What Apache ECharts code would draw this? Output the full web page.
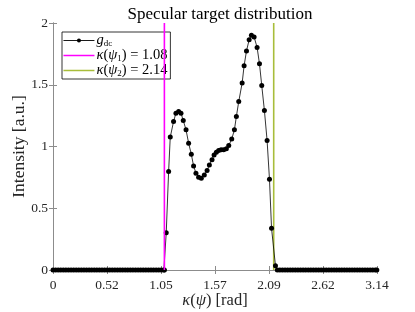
<!DOCTYPE html>
<html>
<head>
<meta charset="utf-8">
<script src="https://cdn.jsdelivr.net/npm/echarts@6/dist/echarts.min.js"></script>
<style>html,body{margin:0;padding:0;background:#fff}#c{width:415px;height:312px}</style>
</head>
<body>
<div id="c"></div>
<script>
// ---- data ----
const kappa = [
  0, 0.025, 0.05, 0.075, 0.1, 0.125, 0.15, 0.175, 0.2, 0.225, 0.25, 0.275, 0.3, 0.325, 0.35, 0.375,
  0.4, 0.425, 0.45, 0.475, 0.5, 0.525, 0.55, 0.575, 0.6, 0.625, 0.65, 0.675, 0.7, 0.725, 0.75, 0.775,
  0.8, 0.825, 0.85, 0.875, 0.9, 0.925, 0.95, 0.975, 1.0, 1.025, 1.05, 1.075, 1.08,
  1.098, 1.121, 1.137, 1.169, 1.192, 1.218, 1.241, 1.263, 1.290, 1.315, 1.341, 1.363, 1.386, 1.412,
  1.438, 1.467, 1.494, 1.516, 1.542, 1.562, 1.584, 1.606, 1.630, 1.655, 1.681, 1.704, 1.733, 1.759,
  1.778, 1.801, 1.834, 1.853, 1.876, 1.902, 1.924, 1.950, 1.979, 2.002, 2.024, 2.050, 2.076, 2.099,
  2.119, 2.157,
  2.175, 2.2, 2.225, 2.25, 2.275, 2.3, 2.325, 2.35, 2.375, 2.4, 2.425, 2.45, 2.475, 2.5, 2.525, 2.55,
  2.575, 2.6, 2.625, 2.65, 2.675, 2.7, 2.725, 2.75, 2.775, 2.8, 2.825, 2.85, 2.875, 2.9, 2.925, 2.95,
  2.975, 3.0, 3.025, 3.05, 3.075, 3.1, 3.125, 3.14
];
const gdc = [
  0, 0, 0, 0, 0, 0, 0, 0, 0, 0, 0, 0, 0, 0, 0, 0,
  0, 0, 0, 0, 0, 0, 0, 0, 0, 0, 0, 0, 0, 0, 0, 0,
  0, 0, 0, 0, 0, 0, 0, 0, 0, 0, 0, 0, 0,
  0.302, 0.797, 1.076, 1.202, 1.270, 1.283, 1.270, 1.210, 1.135, 1.027, 0.938, 0.843, 0.784, 0.752,
  0.743, 0.770, 0.805, 0.851, 0.892, 0.932, 0.954, 0.967, 0.973, 0.973, 0.981, 1.008, 1.060, 1.135,
  1.243, 1.364, 1.514, 1.654, 1.773, 1.865, 1.900, 1.887, 1.802, 1.670, 1.494, 1.291, 1.048, 0.735,
  0.338, 0.035,
  0, 0, 0, 0, 0, 0, 0, 0, 0, 0, 0, 0, 0, 0, 0, 0,
  0, 0, 0, 0, 0, 0, 0, 0, 0, 0, 0, 0, 0, 0, 0, 0,
  0, 0, 0, 0, 0, 0, 0, 0
];
const kappaPsi1 = 1.08;
const kappaPsi2 = 2.14;
const xTickLabels = ['0', '0.52', '1.05', '1.57', '2.09', '2.62', '3.14'];
const yTickLabels = ['0', '0.5', '1', '1.5', '2'];
const yRange = [0, 2];

const FONT = 'Liberation Serif';
const AX = '#8c8c8c';
const TXT = '#262626';
const MAGENTA = '#ff00ff';
const OLIVE = '#a8bd3a';

const curve = kappa.map((k, i) => [k, gdc[i]]);

const chart = echarts.init(document.getElementById('c'), null, {renderer: 'canvas'});

const xStep = Math.PI / 6;
const baseX = {
  type: 'value', min: 0, max: Math.PI, interval: xStep,
  axisLine: {show: true, lineStyle: {color: AX, width: 1}},
  axisTick: {show: true, inside: true, length: 4, lineStyle: {color: AX}},
  splitLine: {show: false}
};
const baseY = {
  type: 'value', min: 0, max: 2, interval: 0.5,
  axisLine: {show: true, lineStyle: {color: AX, width: 1}},
  axisTick: {show: true, inside: true, length: 4, lineStyle: {color: AX}},
  splitLine: {show: false}
};

const LF = 14.5;
const rich = {
  it: {fontFamily: FONT, fontStyle: 'italic', fontSize: LF, color: '#000', lineHeight: 15},
  sub: {fontFamily: FONT, fontSize: 9, color: '#000', verticalAlign: 'bottom', lineHeight: 15, padding: [6, 0, 0, 0]},
  n: {fontFamily: FONT, fontSize: LF, color: '#000', lineHeight: 15}
};
const lineIcon = 'path://M0,0H62V3H0Z';

chart.setOption({
  animation: false,
  backgroundColor: '#fff',
  title: {
    text: 'Specular target distribution',
    left: 215, top: 1, textAlign: 'center',
    textStyle: {fontFamily: FONT, fontSize: 17, fontWeight: 'normal', color: '#000'}
  },
  grid: {left: 53, right: 38, top: 23, bottom: 42, containLabel: false, outerBoundsMode: 'none'},
  legend: {
    orient: 'vertical', left: 62, top: 32,
    backgroundColor: '#fff', borderColor: '#000', borderWidth: 0.8, borderRadius: 0,
    padding: [1, 3, 1, 1], itemGap: 0, itemWidth: 31, itemHeight: 5,
    data: [
      {name: 'g', lineStyle: {width: 0.9}},
      {name: 'k1', icon: lineIcon, itemStyle: {color: MAGENTA}},
      {name: 'k2', icon: lineIcon, itemStyle: {color: OLIVE}}
    ],
    formatter: function (name) {
      if (name === 'g') return '{it|g}{sub|dc}';
      if (name === 'k1') return '{it|κ}{n|(}{it|ψ}{sub|1}{n|) = 1.08}';
      return '{it|κ}{n|(}{it|ψ}{sub|2}{n|) = 2.14}';
    },
    textStyle: {fontFamily: FONT, fontSize: LF, color: '#000', padding: [0, 0, 0, -3], rich: rich}
  },
  xAxis: [
    Object.assign({}, baseX, {
      position: 'bottom',
      axisLabel: {
        show: true, margin: 8, fontFamily: FONT, fontSize: 13.5, color: TXT,
        showMaxLabel: true, showMinLabel: true,
        formatter: v => xTickLabels[Math.round(v / xStep)]
      },
      name: '{it|κ}{n|(}{it|ψ}{n|) [rad]}', nameLocation: 'middle', nameGap: 22,
      nameMoveOverlap: false,
      nameTextStyle: {fontFamily: FONT, fontSize: 16.5, color: TXT, rich: {
        it: {fontFamily: FONT, fontStyle: 'italic', fontSize: 16.5, color: TXT},
        n: {fontFamily: FONT, fontSize: 16.5, color: TXT}
      }}
    }),
    Object.assign({}, baseX, {position: 'top', axisLabel: {show: false}})
  ],
  yAxis: [
    Object.assign({}, baseY, {
      position: 'left',
      axisLabel: {
        show: true, margin: 5, fontFamily: FONT, fontSize: 13.5, color: TXT,
        formatter: v => yTickLabels[Math.round(v / 0.5)]
      },
      name: 'Intensity [a.u.]', nameLocation: 'middle', nameGap: 25,
      nameMoveOverlap: false,
      nameTextStyle: {fontFamily: FONT, fontSize: 17.5, color: TXT}
    }),
    Object.assign({}, baseY, {position: 'right', axisLabel: {show: false}})
  ],
  series: [
    {
      name: 'g', type: 'line', data: curve, xAxisIndex: 0, yAxisIndex: 0,
      symbol: 'circle', symbolSize: 5, showSymbol: true, showAllSymbol: true,
      lineStyle: {color: '#000', width: 0.8}, itemStyle: {color: '#000'},
      z: 3
    },
    {
      name: 'k1', type: 'line', data: [[kappaPsi1, yRange[0]], [kappaPsi1, yRange[1]]],
      symbol: 'none', lineStyle: {color: MAGENTA, width: 1.6}, itemStyle: {color: MAGENTA},
      z: 4
    },
    {
      name: 'k2', type: 'line', data: [[kappaPsi2, yRange[0]], [kappaPsi2, yRange[1]]],
      symbol: 'none', lineStyle: {color: OLIVE, width: 1.6}, itemStyle: {color: OLIVE},
      z: 2
    }
  ]
});
</script>
</body>
</html>
